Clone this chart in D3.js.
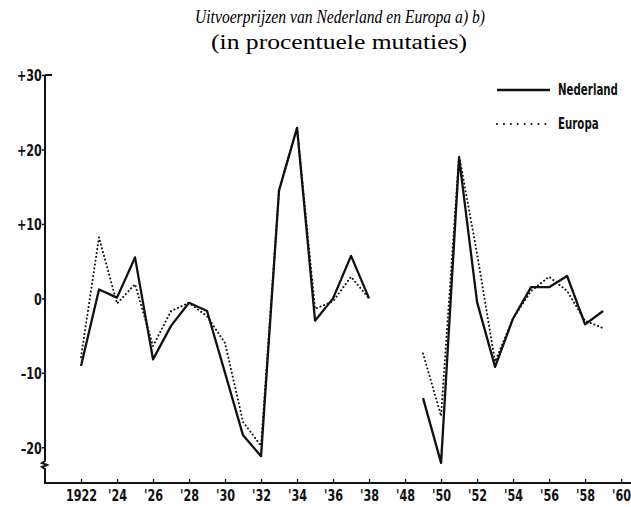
<!DOCTYPE html>
<html>
<head>
<meta charset="utf-8">
<script src="https://cdn.jsdelivr.net/npm/d3@7"></script>
<style>
  body { margin: 0; background: #fff; }
  svg { display: block; }
  .ax text { font-family: "Liberation Sans Narrow", "DejaVu Sans Condensed", sans-serif; font-stretch: condensed; font-weight: bold; font-size: 16px; fill: #111; }
</style>
</head>
<body>
<svg width="631" height="507"></svg>
<script>
/*global d3 */
// jaren voor en na de oorlog
var yearsPre = [1922, 1923, 1924, 1925, 1926, 1927, 1928, 1929, 1930, 1931, 1932, 1933, 1934, 1935, 1936, 1937, 1938];
var nedPre = [-9.1, 1.2, 0.1, 5.5, -8.2, -3.7, -0.6, -1.7, -10, -18.4, -21.2, 14.5, 22.9, -3.0, 0, 5.7, 0];
var eurPre = [-7.9, 8.2, -0.7, 1.9, -6.4, -1.7, -0.6, -2.4, -6, -16.6, -19.8, 14.5, 22.9, -1.4, -0.4, 2.9, 0];

var yearsPost = [1949, 1950, 1951, 1952, 1953, 1954, 1955, 1956, 1957, 1958, 1959];
var nedPost = [-13.4, -22.1, 18.9, -0.5, -9.2, -2.7, 1.5, 1.5, 3.0, -3.5, -1.7];
var eurPost = [-7.4, -15.8, 19.2, 6, -8.5, -2.7, 1.0, 2.9, 1.0, -3.0, -4.0];

var xTicks = [1922, 1924, 1926, 1928, 1930, 1932, 1934, 1936, 1938, 1948, 1950, 1952, 1954, 1956, 1958, 1960];
var xLabels = ["1922", "'24", "'26", "'28", "'30", "'32", "'34", "'36", "'38", "'48", "'50", "'52", "'54", "'56", "'58", "'60"];
var yTicks = [30, 20, 10, 0, -10, -20];
var yLabels = ["+30", "+20", "+10", "0", "\u201310", "\u201320"];

var seriesNames = ["Nederland", "Europa"];

var svg = d3.select("svg");
var squeeze = "scale(0.78,1)";

// oorlogsjaren weggelaten: 1948 komt direct na 1938 op de as
var pos = function (yr) { return yr <= 1938 ? yr : yr - 8; };
var x = d3.scaleLinear().domain([1920, 1952.55]).range([45, 631]);
var y = d3.scaleLinear().domain([-24.8, 30]).range([483, 75]);

// titel
svg.append("text").attr("x", 340).attr("y", 23).attr("text-anchor", "middle")
    .attr("textLength", 290).attr("lengthAdjust", "spacingAndGlyphs")
    .style("font-family", "'Liberation Serif', 'DejaVu Serif', serif").style("font-style", "italic")
    .style("font-size", "19.5px").text("Uitvoerprijzen van Nederland en Europa a) b)");
svg.append("text").attr("x", 339).attr("y", 49).attr("text-anchor", "middle")
    .attr("textLength", 256).attr("lengthAdjust", "spacingAndGlyphs")
    .style("font-family", "'Liberation Serif', 'DejaVu Serif', serif")
    .style("font-size", "20px").text("(in procentuele mutaties)");

// x-as
var xAxis = d3.axisBottom(x)
    .tickValues(xTicks.map(pos))
    .tickFormat(function (d, i) { return xLabels[i]; })
    .tickSizeInner(-4).tickSizeOuter(0).tickPadding(7);
var gx = svg.append("g").attr("class", "ax").attr("transform", "translate(0,483)").call(xAxis);
gx.select(".domain").remove();
gx.selectAll(".tick line").attr("stroke", "#111").attr("stroke-width", 1.3);
gx.selectAll(".tick text").attr("transform", squeeze);
svg.append("line").attr("x1", 44).attr("x2", 631).attr("y1", 483).attr("y2", 483)
    .attr("stroke", "#111").attr("stroke-width", 2);

// y-as
var yAxis = d3.axisLeft(y)
    .tickValues(yTicks)
    .tickFormat(function (d, i) { return yLabels[i]; })
    .tickSizeInner(3).tickSizeOuter(0).tickPadding(1);
var gy = svg.append("g").attr("class", "ax").attr("transform", "translate(45,0)").call(yAxis);
gy.select(".domain").remove();
gy.selectAll(".tick line").attr("stroke", "#111").attr("stroke-width", 1.5);
gy.selectAll(".tick text").attr("dy", "0.36em").attr("transform", squeeze);
// onderbroken as met knik
svg.append("path")
    .attr("d", "M45," + y(30) + "V461 l-3,2 l5,2 l-5,2 l3,2 V483")
    .attr("fill", "none").attr("stroke", "#111").attr("stroke-width", 2);
svg.append("line").attr("x1", 45).attr("x2", 52).attr("y1", y(30)).attr("y2", y(30))
    .attr("stroke", "#111").attr("stroke-width", 2);

var line = d3.line()
    .x(function (d) { return x(pos(d[0])); })
    .y(function (d) { return y(d[1]); });

var drawSeries = function (years, vals, dotted) {
    var p = svg.append("path")
        .datum(d3.zip(years, vals))
        .attr("d", line)
        .attr("fill", "none")
        .attr("stroke", "#111")
        .attr("stroke-linejoin", "round");
    if (dotted) {
        p.attr("stroke-width", 2).attr("stroke-linecap", "round").attr("stroke-dasharray", "0.1,3.8");
    } else {
        p.attr("stroke-width", 2.3);
    }
};

drawSeries(yearsPre, eurPre, true);
drawSeries(yearsPost, eurPost, true);
drawSeries(yearsPre, nedPre, false);
drawSeries(yearsPost, nedPost, false);

// legenda
var leg = svg.append("g").attr("class", "ax");
leg.selectAll("line").data(seriesNames).enter().append("line")
    .attr("x1", 497).attr("x2", 550)
    .attr("y1", function (d, i) { return 90 + i * 34; })
    .attr("y2", function (d, i) { return 90 + i * 34; })
    .attr("stroke", "#111")
    .attr("stroke-width", function (d, i) { return i === 0 ? 2.3 : 2; })
    .attr("stroke-linecap", function (d, i) { return i === 0 ? "butt" : "round"; })
    .attr("stroke-dasharray", function (d, i) { return i === 0 ? null : "0.1,6.8"; });
leg.selectAll("text").data(seriesNames).enter().append("text")
    .attr("transform", function (d, i) { return "translate(558," + (95 + i * 34) + ") scale(0.76,1)"; })
    .style("font-size", "15px")
    .text(function (d) { return d; });
</script>
</body>
</html>
